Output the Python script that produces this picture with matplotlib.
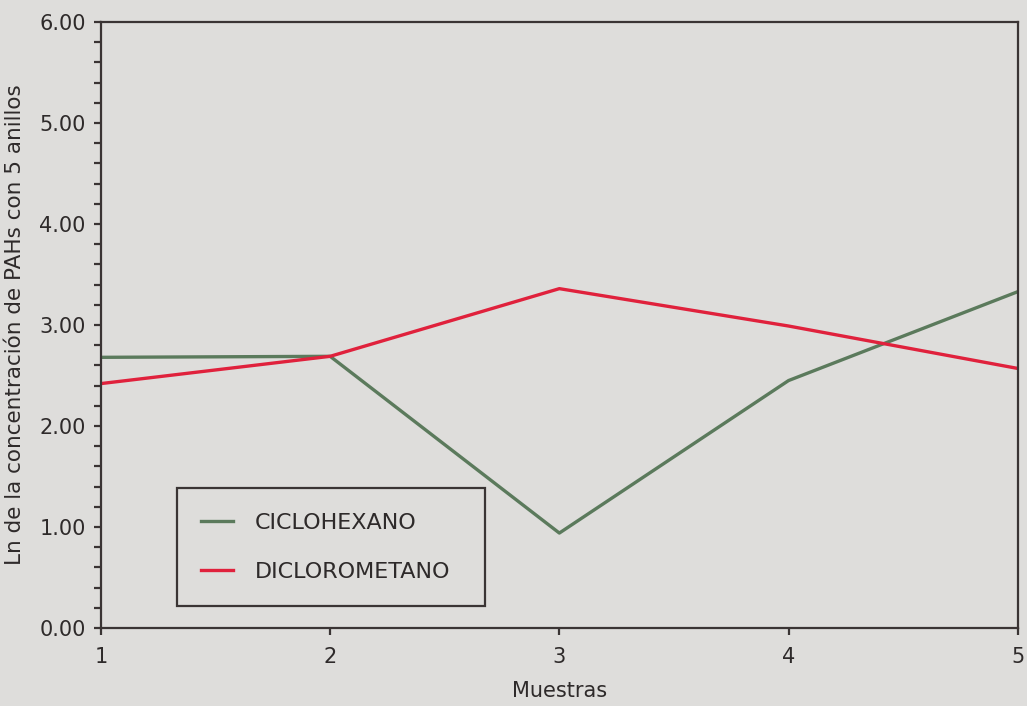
import matplotlib
matplotlib.use('Agg')
import matplotlib.pyplot as plt
from matplotlib.ticker import MultipleLocator, FixedLocator

# sample number and Ln of 5-ring PAH concentration
muestras = [1, 2, 3, 4, 5]
ciclohexano = [2.68, 2.69, 0.94, 2.45, 3.33]
diclorometano = [2.42, 2.69, 3.36, 2.99, 2.57]

bg = '#dedddb'
ink = '#3a3434'
txt = '#2e2a2a'

fig = plt.figure(figsize=(10.27, 7.06), dpi=100, facecolor=bg)
ax = fig.add_axes([0.0983, 0.1105, 0.8927, 0.8583], facecolor=bg)

ax.plot(muestras, ciclohexano, color='#5b7a5c', lw=2.4, label='CICLOHEXANO')
ax.plot(muestras, diclorometano, color='#e0213c', lw=2.4, label='DICLOROMETANO')

ax.set_xlim(1, 5)
ax.set_ylim(0, 6)
ax.xaxis.set_major_locator(FixedLocator(muestras))
ax.yaxis.set_major_locator(MultipleLocator(1))
ax.yaxis.set_minor_locator(MultipleLocator(0.2))
ax.yaxis.set_major_formatter(matplotlib.ticker.FormatStrFormatter('%.2f'))

for s in ax.spines.values():
    s.set_color(ink)
    s.set_linewidth(1.6)
ax.tick_params(axis='both', which='both', direction='out', color=ink, width=1.6,
               labelcolor=txt)
ax.tick_params(axis='y', which='both', length=5, pad=6, labelsize=15)
ax.tick_params(axis='x', which='major', length=5, pad=9, labelsize=15)

ax.set_xlabel('Muestras', fontsize=15, color=txt, labelpad=10)
ax.set_ylabel('Ln de la concentración de PAHs con 5 anillos', fontsize=15.5,
              color=txt, labelpad=10)

leg = ax.legend(loc='lower left', bbox_to_anchor=(0.083, 0.036, 0.336, 0.192),
                mode='expand', fontsize=16, frameon=True, fancybox=False,
                framealpha=1, handlelength=1.4, handletextpad=1.0,
                labelspacing=1.3, borderpad=1.1, borderaxespad=0)
leg.get_frame().set_edgecolor(ink)
leg.get_frame().set_facecolor(bg)
leg.get_frame().set_linewidth(1.6)
for t in leg.get_texts():
    t.set_color(txt)

fig.savefig('out.png', dpi=100, facecolor=bg)
